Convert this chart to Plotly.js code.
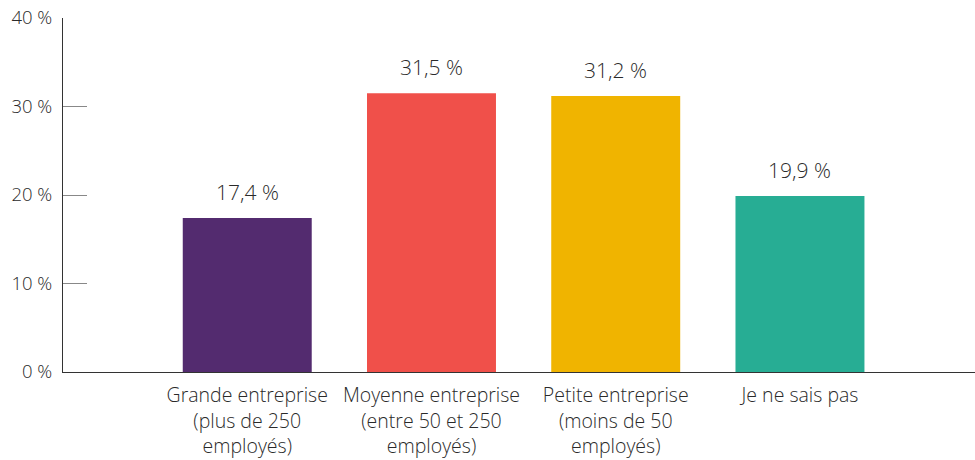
<!DOCTYPE html>
<html>
<head>
<meta charset="utf-8">
<script src="https://cdn.plot.ly/plotly-3.0.1.min.js"></script>
<style>html,body{margin:0;padding:0;background:#fff;}#chart{width:975px;height:460px;}</style>
</head>
<body>
<div id="chart"></div>
<script>
const categories = [
  "Grande entreprise<br>(plus de 250<br>employés)",
  "Moyenne entreprise<br>(entre 50 et 250<br>employés)",
  "Petite entreprise<br>(moins de 50<br>employés)",
  "Je ne sais pas"
];
const values = [17.4, 31.5, 31.2, 19.9];
const colors = ["#532B6F", "#F0504A", "#F0B400", "#27AD94"];
const yTickVals = [0, 10, 20, 30, 40];
const yTickText = ["0 %", "10 %", "20 %", "30 %", "40 %"];

const FONT = "Open Sans, Noto Sans, sans-serif";
const TXT = "#2a2a2a";
const xIdx = categories.map((c, i) => i);

const trace = {
  type: "bar",
  x: xIdx,
  y: values,
  width: 0.7,
  marker: { color: colors },
  hoverinfo: "none"
};

const annotations = values.map((v, i) => ({
  x: i, y: v, xref: "x", yref: "y",
  text: v.toFixed(1).replace(".", ",") + " %",
  showarrow: false, yanchor: "bottom", yshift: 10,
  font: { family: FONT, size: 21, color: TXT, weight: 300 }
}));

const layout = {
  width: 975, height: 460,
  margin: { l: 63, r: 0, t: 18, b: 88 },
  paper_bgcolor: "#fff", plot_bgcolor: "#fff",
  showlegend: false,
  separators: ", ",
  font: { family: FONT, color: TXT, weight: 300 },
  xaxis: {
    range: [-1, 3.95],
    tickvals: xIdx,
    ticktext: categories,
    showgrid: false, zeroline: false,
    showline: true, linecolor: "#333", linewidth: 1,
    ticks: "",
    ticklabelstandoff: 6,
    tickfont: { family: FONT, size: 19.5, color: TXT, weight: 300 },
    fixedrange: true
  },
  yaxis: {
    range: [0, 40],
    tickvals: yTickVals,
    ticktext: yTickText,
    showgrid: false, zeroline: false,
    showline: true, linecolor: "#333", linewidth: 1,
    ticks: "inside", ticklen: 24, tickcolor: "#888", tickwidth: 1,
    ticklabelstandoff: 6,
    tickfont: { family: FONT, size: 18.5, color: TXT, weight: 300 },
    fixedrange: true
  },
  annotations: annotations
};

Plotly.newPlot("chart", [trace], layout, { displayModeBar: false, staticPlot: true });
</script>
</body>
</html>
